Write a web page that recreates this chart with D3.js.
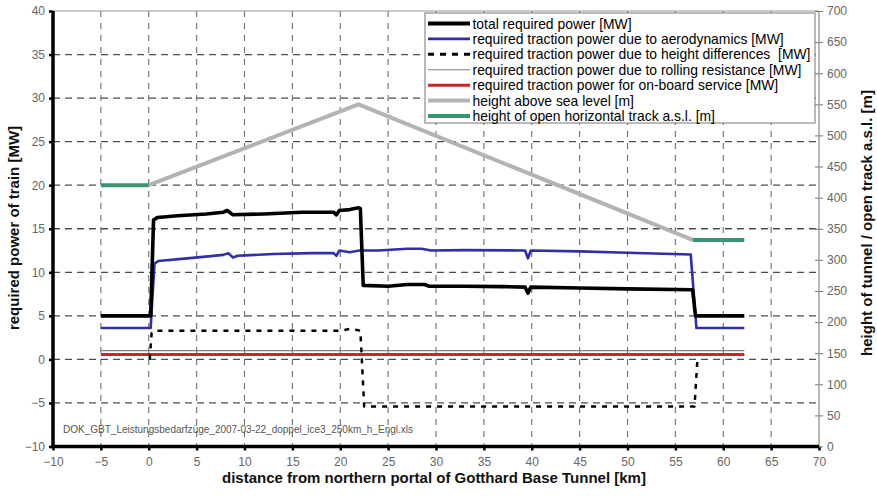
<!DOCTYPE html>
<html>
<head>
<meta charset="utf-8">
<script src="https://cdn.jsdelivr.net/npm/d3@7"></script>
<style>
  html, body { margin: 0; padding: 0; background: #fff; }
  svg { display: block; font-family: "Liberation Sans", Arial, sans-serif; }
</style>
</head>
<body>
<svg id="chart" width="877" height="496"></svg>
<script>
// ---------- data ----------
const xTicks = [-10, -5, 0, 5, 10, 15, 20, 25, 30, 35, 40, 45, 50, 55, 60, 65, 70];
const yLeftTicks = [-10, -5, 0, 5, 10, 15, 20, 25, 30, 35, 40];
const yRightTicks = [0, 50, 100, 150, 200, 250, 300, 350, 400, 450, 500, 550, 600, 650, 700];

// total required power [MW]
const totalKm    = [-5, 0.2, 0.5, 0.9, 3, 6, 7.8, 8.2, 8.8, 12, 16, 19.3, 19.6, 19.9, 21, 21.9, 22.1, 22.4, 25, 27, 28.8, 29.3, 33, 37, 39.3, 39.6, 39.9, 45, 50, 56.8, 57.1, 62.2];
const totalPower = [5.0, 5.0, 16.0, 16.3, 16.5, 16.7, 16.9, 17.1, 16.6, 16.7, 16.9, 16.9, 16.6, 17.1, 17.2, 17.4, 17.3, 8.5, 8.4, 8.6, 8.6, 8.4, 8.4, 8.35, 8.3, 7.6, 8.3, 8.2, 8.1, 8.0, 5.0, 5.0];

// required traction power due to aerodynamics [MW]
const aeroKm    = [-5, 0.2, 0.6, 1, 4, 7.8, 8.3, 8.8, 9.3, 13, 17, 19.3, 19.6, 19.9, 21, 22, 24, 27, 28.5, 29.5, 33, 39.3, 39.6, 39.9, 45, 50, 56.6, 57.2, 62.2];
const aeroPower = [3.6, 3.6, 11.0, 11.3, 11.6, 12.0, 12.2, 11.7, 11.9, 12.1, 12.2, 12.2, 11.9, 12.5, 12.3, 12.5, 12.5, 12.7, 12.7, 12.5, 12.55, 12.5, 11.6, 12.5, 12.4, 12.25, 12.05, 3.6, 3.6];

// required traction power due to height differences [MW]
const heightPowKm = [0.1, 0.3, 0.6, 20, 21, 21.6, 22.1, 22.5, 57.0, 57.3];
const heightPow   = [0.0, 3.0, 3.3, 3.3, 3.5, 3.4, 3.3, -5.4, -5.4, 0.0];

// rolling resistance / on-board service [MW]
const rollKm = [-5, 62.2];
const rollPow = [1.0, 1.0];
const serviceKm = [-5, 62.2];
const servicePow = [0.55, 0.55];

// height above sea level [m]
const heightKm = [0, 21.9, 56.8];
const heightAsl = [420, 550, 332];

// height of open horizontal track a.s.l. [m]
const openLeftKm = [-5, 0];
const openLeftH = [420, 420];
const openRightKm = [56.8, 62.2];
const openRightH = [332, 332];

const legendLabels = [
  "total required power [MW]",
  "required traction power due to aerodynamics [MW]",
  "required traction power due to height differences  [MW]",
  "required traction power due to rolling resistance [MW]",
  "required traction power for on-board service [MW]",
  "height above sea level [m]",
  "height of open horizontal track a.s.l. [m]"
];

// ---------- drawing ----------
const svg = d3.select("#chart");
const L = 53, R = 819, T = 11, B = 446.5;

const x = d3.scaleLinear().domain([-10, 70]).range([L, R]);
const yL = d3.scaleLinear().domain([-10, 40]).range([B, T]);
const yR = d3.scaleLinear().domain([0, 700]).range([B, T]);

// grid
const grid = svg.append("g");
grid.selectAll("line.v").data(xTicks.filter(d => d > -10 && d < 70)).enter().append("line")
  .attr("x1", d => x(d)).attr("x2", d => x(d)).attr("y1", T).attr("y2", B)
  .attr("stroke", "#6e6e6e").attr("stroke-width", 1.1).attr("stroke-dasharray", "6,6");
grid.selectAll("line.h").data(yLeftTicks.filter(d => d > -10 && d < 40)).enter().append("line")
  .attr("x1", L).attr("x2", R).attr("y1", d => yL(d)).attr("y2", d => yL(d))
  .attr("stroke", "#4d4d4d").attr("stroke-width", 1.3).attr("stroke-dasharray", "7,5");

// top border
svg.append("line").attr("x1", L).attr("x2", R).attr("y1", T).attr("y2", T)
  .attr("stroke", "#999").attr("stroke-width", 1.2);

// file name text
svg.append("text").attr("x", 63).attr("y", 433)
  .attr("font-size", 10).attr("fill", "#555")
  .attr("textLength", 350).attr("lengthAdjust", "spacingAndGlyphs")
  .text("DOK_GBT_Leistungsbedarfzüge_2007-03-22_doppel_ice3_250km_h_Engl.xls");

// series
function drawLine(xs, ys, yScale, color, width, dash) {
  const pts = xs.map((d, i) => [d, ys[i]]);
  const line = d3.line().x(d => x(d[0])).y(d => yScale(d[1]));
  const p = svg.append("path").datum(pts).attr("d", line)
    .attr("fill", "none").attr("stroke", color).attr("stroke-width", width)
    .attr("stroke-linejoin", "round");
  if (dash) p.attr("stroke-dasharray", dash);
  return p;
}

const C = {
  total: "#000000", aero: "#2f2fa8", hdiff: "#000000", roll: "#808080",
  service: "#c8262c", asl: "#b3b3b3", open: "#3d9470"
};

drawLine(heightKm, heightAsl, yR, C.asl, 4);
drawLine(openLeftKm, openLeftH, yR, C.open, 4);
drawLine(openRightKm, openRightH, yR, C.open, 4);
drawLine(rollKm, rollPow, yL, C.roll, 1.2);
drawLine(serviceKm, servicePow, yL, C.service, 3);
drawLine(heightPowKm, heightPow, yL, C.hdiff, 2.5, "5,6");
drawLine(aeroKm, aeroPower, yL, C.aero, 2.6);
drawLine(totalKm, totalPower, yL, C.total, 3.6);

// axes
const tickFont = g => g.selectAll("text").attr("font-size", 12).attr("fill", "#666")
  .attr("font-family", "'Liberation Sans', Arial, sans-serif");

const gl = svg.append("g").attr("transform", `translate(${L},0)`)
  .call(d3.axisLeft(yL).tickValues(yLeftTicks).tickSize(4).tickPadding(4).tickFormat(d3.format("d")));
gl.select(".domain").remove();
gl.selectAll(".tick line").attr("stroke", "#000").attr("stroke-width", 2.5);
gl.call(tickFont);

const gb = svg.append("g").attr("transform", `translate(0,${B})`)
  .call(d3.axisBottom(x).tickValues(xTicks).tickSize(4).tickPadding(7).tickFormat(d3.format("d")));
gb.select(".domain").remove();
gb.selectAll(".tick line").attr("stroke", "#000").attr("stroke-width", 2.5);
gb.call(tickFont);

const gr = svg.append("g").attr("transform", `translate(${R},0)`)
  .call(d3.axisRight(yR).tickValues(yRightTicks).tickSize(4).tickPadding(4).tickFormat(d3.format("d")));
gr.select(".domain").remove();
gr.selectAll(".tick line").attr("x1", -4).attr("x2", 4).attr("stroke", "#777").attr("stroke-width", 1);
gr.call(tickFont);

svg.append("line").attr("x1", R).attr("x2", R).attr("y1", T).attr("y2", B)
  .attr("stroke", "#888").attr("stroke-width", 1.2);
svg.append("line").attr("x1", L).attr("x2", L).attr("y1", T).attr("y2", B + 1.7)
  .attr("stroke", "#000").attr("stroke-width", 3.5);
svg.append("line").attr("x1", L - 1.7).attr("x2", R).attr("y1", B).attr("y2", B)
  .attr("stroke", "#000").attr("stroke-width", 3.5);

// axis titles
svg.append("text").attr("transform", "translate(13,228) rotate(-90)")
  .attr("text-anchor", "middle").attr("dominant-baseline", "central")
  .attr("font-size", 15).attr("font-weight", "bold").attr("fill", "#111")
  .text("required power of train [MW]");
svg.append("text").attr("transform", "translate(866,223) rotate(-90)")
  .attr("text-anchor", "middle").attr("dominant-baseline", "central")
  .attr("font-size", 15).attr("font-weight", "bold").attr("fill", "#111")
  .text("height of tunnel / open track a.s.l. [m]");
svg.append("text").attr("x", 434).attr("y", 483)
  .attr("text-anchor", "middle")
  .attr("font-size", 15).attr("font-weight", "bold").attr("fill", "#111")
  .text("distance from northern portal of Gotthard Base Tunnel [km]");

// legend
const legend = svg.append("g");
legend.append("rect").attr("x", 425).attr("y", 13).attr("width", 390).attr("height", 110)
  .attr("fill", "#fff").attr("stroke", "#777").attr("stroke-width", 1);
const legendStyles = [
  { c: C.total, w: 4 }, { c: C.aero, w: 2.6 }, { c: C.hdiff, w: 3, dash: "6,6" },
  { c: C.roll, w: 1.2 }, { c: C.service, w: 3 }, { c: C.asl, w: 4 }, { c: C.open, w: 4 }
];
const rowY = d3.scaleLinear().domain([0, 6]).range([23.5, 116]);
legendLabels.forEach((lab, i) => {
  const s = legendStyles[i];
  const ln = legend.append("line").attr("x1", 428).attr("x2", 470)
    .attr("y1", rowY(i)).attr("y2", rowY(i))
    .attr("stroke", s.c).attr("stroke-width", s.w);
  if (s.dash) ln.attr("stroke-dasharray", s.dash);
  legend.append("text")
    .attr("x", 472.5).attr("y", rowY(i))
    .attr("dominant-baseline", "central").attr("font-size", 13.9).attr("fill", "#000")
    .style("white-space", "pre")
    .text(lab);
});
</script>
</body>
</html>
